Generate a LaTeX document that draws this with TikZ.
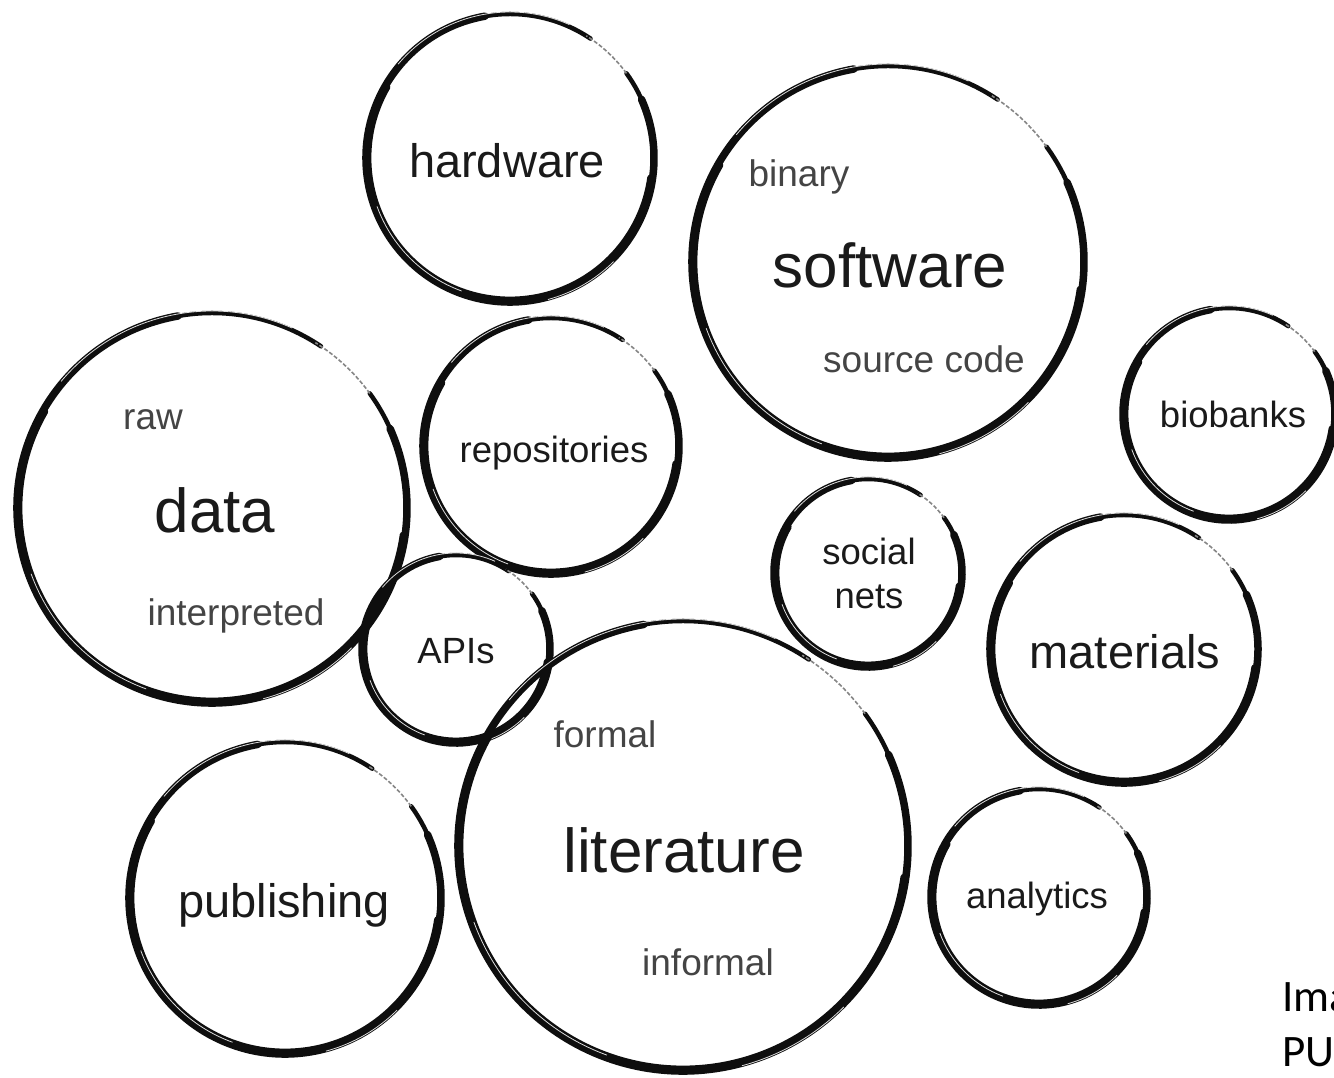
\documentclass[tikz,border=0pt]{standalone}
\usepackage{fontspec}
\setmainfont{Liberation Sans}
\newfontfamily\calibrifont{Carlito}
\definecolor{ink}{HTML}{0E0E0E}
\definecolor{labelink}{HTML}{1A1A1A}
\definecolor{subink}{HTML}{444444}
\tikzset{
  ring/.style={circle, inner sep=0pt, minimum size=#1},
  bigl/.style={anchor=base, inner sep=0pt, text=labelink, font=\fontsize{62}{62}\selectfont},
  medl/.style={anchor=base, inner sep=0pt, text=labelink, font=\fontsize{47}{47}\selectfont},
  smal/.style={anchor=base, inner sep=0pt, text=labelink, font=\fontsize{36.5}{36.5}\selectfont},
  subl/.style={anchor=base, inner sep=0pt, text=subink, font=\fontsize{37}{37}\selectfont},
  notel/.style={anchor=base west, inner sep=0pt, text=black, font=\calibrifont\fontsize{45}{45}\selectfont},
  inkline/.style={draw=ink, line cap=round},
  fadeline/.style={draw=ink!50, line width=1.6pt, dash pattern=on 4pt off 2pt},
  streak/.style={draw=white, line width=0.8pt, opacity=0.85}
}
% brush-like ring around a named node; #1 node name, #2 radius
\newcommand\brushring[2]{%
  \draw[inkline, line width=4.5pt] (#1.center) ++(-56:#2) arc[start angle=-56, end angle=-396, radius=#2];
  \draw[inkline, line width=7.5pt] (#1.center) ++(-100:#2) arc[start angle=-100, end angle=-384, radius=#2];
  \draw[inkline, line width=6pt] (#1.center) ++(-150:{#2-2.4}) arc[start angle=-150, end angle=-352, radius={#2-2.4}];
  \draw[fadeline] (#1.center) ++(-36:#2) arc[start angle=-36, end angle=-58, radius=#2];
  \draw[streak] (#1.center) ++(-66:{#2+2}) arc[start angle=-66, end angle=-140, radius={#2+2}];
  \draw[streak] (#1.center) ++(-200:{#2-2.5}) arc[start angle=-200, end angle=-250, radius={#2-2.5}];
  \draw[streak] (#1.center) ++(-285:{#2+2.5}) arc[start angle=-285, end angle=-315, radius={#2+2.5}];
}
\begin{document}
\begin{tikzpicture}[x=1pt, y=-1pt]
\useasboundingbox[fill=white] (0,0) rectangle (1334,1077);
% circles (named nodes)
\node[ring=288pt] (hw)   at (510,158) {};
\node[ring=392pt] (sw)   at (888,262) {};
\node[ring=390pt] (dat)  at (212,508) {};
\node[ring=256pt] (repo) at (551,446) {};
\node[ring=188pt] (api)  at (456,649) {};
\node[ring=450pt] (lit)  at (683,846) {};
\node[ring=312pt] (pub)  at (285,898) {};
\node[ring=188pt] (soc)  at (868,573) {};
\node[ring=212pt] (bio)  at (1229,414) {};
\node[ring=268pt] (mat)  at (1124,649) {};
\node[ring=216pt] (ana)  at (1039,897) {};
\brushring{hw}{144}
\brushring{sw}{196}
\brushring{dat}{195}
\brushring{repo}{128}
\brushring{api}{94}
\brushring{lit}{225}
\brushring{pub}{156}
\brushring{soc}{94}
\brushring{bio}{106}
\brushring{mat}{134}
\brushring{ana}{108}
% labels
\node[medl] (lhw) at (507,177) {hardware};
\node[subl] (lbin) at (799,186) {binary};
\node[bigl] (lsw) at (890,287) {software};
\node[subl] (lsrc) at (924,372) {source code};
\node[subl] (lraw) at (153,429) {raw};
\node[bigl] (ldat) at (215,532) {data};
\node[subl] (lint) at (236,625) {interpreted};
\node[smal] (lrepo) at (554,462) {repositories};
\node[smal] (lapi) at (456,663) {APIs};
\node[smal] (lsoc) at (869,564) {social};
\node[smal] (lnet) at (869,608) {nets};
\node[smal] (lbio) at (1233,427) {biobanks};
\node[medl] (lmat) at (1125,668) {materials};
\node[subl] (lfor) at (605,747) {formal};
\node[bigl] (llit) at (684,872) {literature};
\node[medl] (lpub) at (284,917) {publishing};
\node[subl] (linf) at (708,975) {informal};
\node[smal] (lana) at (1037,908) {analytics};
\node[notel] (note1) at (1282,1011) {Ima};
\node[notel] (note2) at (1282,1066) {PU};
\end{tikzpicture}
\end{document}
